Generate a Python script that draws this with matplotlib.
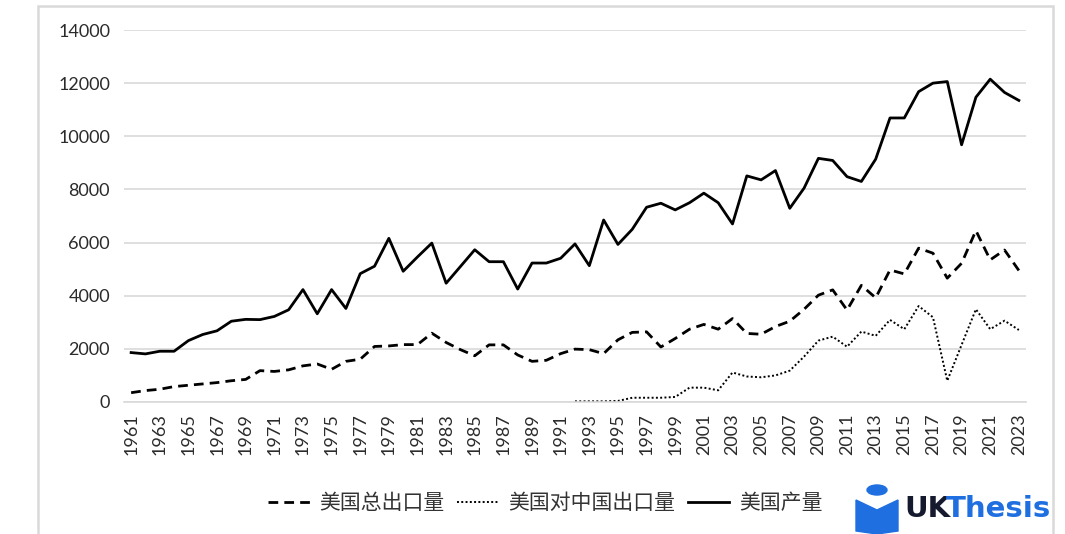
import matplotlib
matplotlib.use("Agg")
import matplotlib.pyplot as plt
from matplotlib.patches import Rectangle, Circle, Polygon

plt.rcParams['font.family'] = ['Lato', 'Noto Sans CJK SC', 'DejaVu Sans']

years = list(range(1961, 2024))

# 美国产量
production = [1860, 1810, 1910, 1910, 2310, 2540, 2680, 3040, 3110, 3100,
              3220, 3470, 4230, 3320, 4230, 3520, 4830, 5110, 6160, 4920,
              5460, 5980, 4470, 5100, 5730, 5280, 5280, 4250, 5230, 5230,
              5410, 5950, 5130, 6850, 5930, 6500, 7330, 7480, 7230, 7500,
              7860, 7500, 6700, 8510, 8360, 8710, 7290, 8050, 9170, 9090,
              8480, 8300, 9140, 10690, 10690, 11680, 12000, 12060, 9680, 11470,
              12150, 11650, 11350]

# 美国总出口量
total_export = [350, 430, 480, 580, 630, 680, 730, 800, 850, 1180,
                1150, 1210, 1360, 1430, 1230, 1530, 1610, 2090, 2110, 2160,
                2160, 2590, 2240, 1970, 1740, 2150, 2150, 1770, 1530, 1570,
                1820, 1990, 1970, 1820, 2340, 2620, 2640, 2070, 2390, 2740,
                2920, 2740, 3140, 2580, 2550, 2840, 3040, 3490, 4020, 4220,
                3460, 4390, 3920, 4970, 4820, 5790, 5600, 4660, 5220, 6450,
                5350, 5720, 4950]

# 美国对中国出口量 (from 1992)
china_years = list(range(1992, 2024))
china_export = [25, 25, 25, 40, 160, 160, 160, 190, 540, 540,
                440, 1110, 960, 930, 1000, 1180, 1710, 2310, 2460, 2080,
                2650, 2490, 3090, 2740, 3610, 3190, 800, 2150, 3490, 2740,
                3060, 2710]

fig = plt.figure(figsize=(10.65, 5.34), dpi=100)
ax = fig.add_axes([0.1164, 0.2472, 0.847, 0.6966])

# outer frame
fig.patches.append(Rectangle((38 / 1065, -0.01), 1015 / 1065, 0.005 + 531 / 534,
                             transform=fig.transFigure, fill=False,
                             edgecolor='#d9d9d9', linewidth=1.8))

ax.plot(years, total_export, color='black', lw=2.0, linestyle=(0, (3.5, 2.2)),
        label='美国总出口量')
ax.plot(china_years, china_export, color='black', lw=1.4, linestyle=(0, (1, 1.2)),
        label='美国对中国出口量')
ax.plot(years, production, color='black', lw=2.0, label='美国产量')

ax.set_xlim(1960.5, 2023.5)
ax.set_ylim(0, 14000)
ax.set_yticks(range(0, 14001, 2000))
ax.set_xticks(years[::2])
ax.set_xticklabels([str(y) for y in years[::2]], rotation=90)
ax.grid(axis='y', color='#d9d9d9', lw=1.2)
ax.set_axisbelow(True)
for s in ['top', 'right', 'left']:
    ax.spines[s].set_visible(False)
ax.spines['bottom'].set_color('#d9d9d9')
ax.spines['bottom'].set_linewidth(1.2)
ax.tick_params(axis='both', length=0, labelsize=13, labelcolor='#2b2b2b')
ax.tick_params(axis='y', pad=10)
ax.tick_params(axis='x', pad=8)

leg = fig.legend(loc='center', bbox_to_anchor=(0.512, 0.058), ncol=3, frameon=False,
                 handlelength=2.0, handletextpad=0.45, columnspacing=0.6,
                 prop={'family': ['Noto Sans CJK SC'], 'size': 15})
for t in leg.get_texts():
    t.set_color('#333333')

# watermark logo
blue = '#1f6fe0'
fig.patches.append(Circle((877 / 1065, 1 - 490 / 534), 10 / 1065,
                          transform=fig.transFigure, color=blue))
fig.patches.append(Polygon([(856 / 1065, 1 - 500 / 534), (877 / 1065, 1 - 510 / 534),
                            (898 / 1065, 1 - 500 / 534), (898 / 1065, 1 - 531 / 534),
                            (877 / 1065, 1 - 534 / 534), (856 / 1065, 1 - 531 / 534)],
                           closed=True, transform=fig.transFigure, color=blue))
fig.text(904 / 1065, 1 - 509 / 534, 'UK', color='#161a2e', fontsize=21,
         fontweight='bold', family=['DejaVu Sans'], va='center', ha='left')
fig.text(946 / 1065, 1 - 509 / 534, 'Thesis', color=blue, fontsize=21,
         fontweight='bold', family=['DejaVu Sans'], va='center', ha='left')

fig.savefig('out.png', dpi=100)
